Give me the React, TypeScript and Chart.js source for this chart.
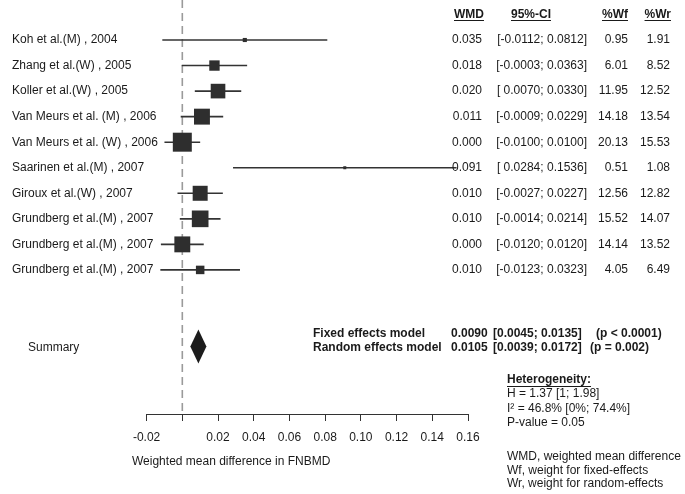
import React, { useEffect, useRef } from "react";
import { Chart, registerables } from "chart.js";

Chart.register(...registerables);

const studies = [
  "Koh et al.(M) , 2004",
  "Zhang et al.(W) , 2005",
  "Koller et al.(W) , 2005",
  "Van Meurs et al. (M) , 2006",
  "Van Meurs et al. (W) , 2006",
  "Saarinen et al.(M) , 2007",
  "Giroux et al.(W) , 2007",
  "Grundberg et al.(M) , 2007",
  "Grundberg et al.(M) , 2007",
  "Grundberg et al.(M) , 2007",
];
const wmd = [0.035, 0.018, 0.02, 0.011, 0.0, 0.091, 0.01, 0.01, 0.0, 0.01];
const ciLow = [-0.0112, -0.0003, 0.007, -0.0009, -0.01, 0.0284, -0.0027, -0.0014, -0.012, -0.0123];
const ciHigh = [0.0812, 0.0363, 0.033, 0.0229, 0.01, 0.1536, 0.0227, 0.0214, 0.012, 0.0323];
const weightFixed = [0.95, 6.01, 11.95, 14.18, 20.13, 0.51, 12.56, 15.52, 14.14, 4.05];
const weightRandom = [1.91, 8.52, 12.52, 13.54, 15.53, 1.08, 12.82, 14.07, 13.52, 6.49];

const modelNames = ["Fixed effects model", "Random effects model"];
const modelEst = [0.009, 0.0105];
const modelLow = [0.0045, 0.0039];
const modelHigh = [0.0135, 0.0172];
const modelP = ["(p < 0.0001)", "(p = 0.002)"];

const heterogeneityLines = ["H = 1.37 [1; 1.98]", "I\u00B2 = 46.8% [0%; 74.4%]", "P-value = 0.05"];
const noteLines = [
  "WMD, weighted mean difference",
  "Wf, weight for fixed-effects",
  "Wr, weight for random-effects",
];

const xTicks = [-0.02, 0, 0.02, 0.04, 0.06, 0.08, 0.1, 0.12, 0.14, 0.16];
const xTickLabels = ["-0.02", "", "0.02", "0.04", "0.06", "0.08", "0.10", "0.12", "0.14", "0.16"];

const SUMMARY_ROW = 13;
const FONT = '"Liberation Sans", Arial, Helvetica, sans-serif';
const TEXT = "#1a1a1a";
const LINE = "#333333";

function fmtLow(v: number) {
  return v < 0 ? v.toFixed(4) : " " + v.toFixed(4);
}

const forestPlugin = {
  id: "forestExtras",
  beforeDatasetsDraw(chart: any) {
    const ctx = chart.ctx;
    const xs = chart.scales.x;
    const x0 = xs.getPixelForValue(0);
    ctx.save();
    ctx.strokeStyle = "#9a9a9a";
    ctx.lineWidth = 1.6;
    ctx.setLineDash([8, 5]);
    ctx.beginPath();
    ctx.moveTo(x0, 0);
    ctx.lineTo(x0, chart.chartArea.bottom);
    ctx.stroke();
    ctx.restore();
  },
  afterDatasetsDraw(chart: any) {
    const ctx = chart.ctx;
    const xs = chart.scales.x;
    const ys = chart.scales.y;
    const yc = ys.getPixelForValue(SUMMARY_ROW);
    const xl = xs.getPixelForValue(modelLow[0]);
    const xe = xs.getPixelForValue(modelEst[0]);
    const xh = xs.getPixelForValue(modelHigh[0]);
    ctx.save();
    ctx.fillStyle = "#1c1c1c";
    ctx.beginPath();
    ctx.moveTo(xl, yc);
    ctx.lineTo(xe, yc - 17);
    ctx.lineTo(xh, yc);
    ctx.lineTo(xe, yc + 17);
    ctx.closePath();
    ctx.fill();
    ctx.restore();
  },
  afterDraw(chart: any) {
    const ctx = chart.ctx;
    const ys = chart.scales.y;
    ctx.save();
    ctx.fillStyle = TEXT;
    ctx.strokeStyle = TEXT;
    ctx.textBaseline = "middle";
    const reg = `12px ${FONT}`;
    const bold = `bold 12px ${FONT}`;

    const underlined = (txt: string, x: number, y: number, align: "left" | "right") => {
      ctx.textAlign = align;
      ctx.fillText(txt, x, y);
      const w = ctx.measureText(txt).width;
      const left = align === "left" ? x : x - w;
      ctx.lineWidth = 1;
      ctx.beginPath();
      ctx.moveTo(left, Math.round(y + 6) + 0.5);
      ctx.lineTo(left + w, Math.round(y + 6) + 0.5);
      ctx.stroke();
    };

    const yh = ys.getPixelForValue(0);
    ctx.font = bold;
    underlined("WMD", 454, yh, "left");
    underlined("95%-CI", 511, yh, "left");
    underlined("%Wf", 628, yh, "right");
    underlined("%Wr", 671, yh, "right");

    ctx.font = reg;
    studies.forEach((name, i) => {
      const y = ys.getPixelForValue(i + 1);
      ctx.textAlign = "left";
      ctx.fillText(name, 12, y);
      ctx.textAlign = "right";
      ctx.fillText(wmd[i].toFixed(3), 482, y);
      ctx.fillText(`[${fmtLow(ciLow[i])}; ${ciHigh[i].toFixed(4)}]`, 587, y);
      ctx.fillText(weightFixed[i].toFixed(2), 628, y);
      ctx.fillText(weightRandom[i].toFixed(2), 670, y);
    });

    const ys0 = ys.getPixelForValue(SUMMARY_ROW);
    ctx.textAlign = "left";
    ctx.fillText("Summary", 28, ys0 + 1);
    ctx.font = bold;
    const pX = [596, 590];
    modelNames.forEach((n, i) => {
      const y = ys0 - 13 + i * 14;
      ctx.fillText(n, 313, y);
      ctx.fillText(modelEst[i].toFixed(4), 451, y);
      ctx.fillText(`[${modelLow[i].toFixed(4)}; ${modelHigh[i].toFixed(4)}]`, 493, y);
      ctx.fillText(modelP[i], pX[i], y);
    });

    underlined("Heterogeneity:", 507, 380, "left");
    ctx.font = reg;
    ctx.textAlign = "left";
    heterogeneityLines.forEach((t, i) => ctx.fillText(t, 507, 394 + i * 14.5));
    noteLines.forEach((t, i) => ctx.fillText(t, 507, 457 + i * 13.3));

    ctx.fillText("Weighted mean difference in FNBMD", 132, 462);
    ctx.restore();
  },
};

export default function App() {
  const ref = useRef<HTMLCanvasElement>(null);
  useEffect(() => {
    if (!ref.current) return;
    const squareData = wmd.map((v, i) => ({ x: v, y: i + 1 }));
    const lineSets = studies.map((_, i) => ({
      type: "line" as const,
      data: [
        { x: ciLow[i], y: i + 1 },
        { x: ciHigh[i], y: i + 1 },
      ],
      borderColor: LINE,
      borderWidth: 1.6,
      pointRadius: 0,
      showLine: true,
      fill: false,
      order: 2,
    }));
    const chart = new Chart(ref.current, {
      type: "scatter",
      data: {
        datasets: [
          {
            data: squareData,
            pointStyle: "rect",
            backgroundColor: "#2e2e2e",
            borderWidth: 0,
            pointRadius: (c: any) => (4.23 * Math.sqrt(weightFixed[c.dataIndex])) / Math.SQRT2,
            order: 0,
          } as any,
          ...lineSets,
        ],
      },
      options: {
        animation: false,
        responsive: false,
        devicePixelRatio: 1,
        clip: false as any,
        layout: { autoPadding: false, padding: { left: 146.6, right: 217, top: 0, bottom: 0 } },
        plugins: { legend: { display: false }, tooltip: { enabled: false } },
        scales: {
          x: {
            type: "linear",
            min: -0.02,
            max: 0.16,
            afterBuildTicks: (s: any) => {
              s.ticks = xTicks.map((v) => ({ value: v }));
            },
            afterFit: (s: any) => {
              s.height = 80;
            },
            grid: { drawOnChartArea: false, drawTicks: true, tickLength: 7, color: LINE, lineWidth: 1 },
            border: { display: true, color: LINE, width: 1 },
            ticks: {
              padding: 9,
              color: TEXT,
              font: { family: FONT, size: 12 },
              autoSkip: false,
              maxRotation: 0,
              callback: (_v: any, i: number) => xTickLabels[i],
            },
          },
          y: {
            type: "linear",
            display: false,
            reverse: true,
            min: -0.566,
            max: 15.64,
          },
        },
      },
      plugins: [forestPlugin],
    } as any);
    return () => chart.destroy();
  }, []);
  return (
    <div style={{ position: "fixed", left: 0, top: 0, width: 685, height: 494, background: "#fff" }}>
      <canvas ref={ref} width={685} height={494} style={{ display: "block" }} />
    </div>
  );
}
